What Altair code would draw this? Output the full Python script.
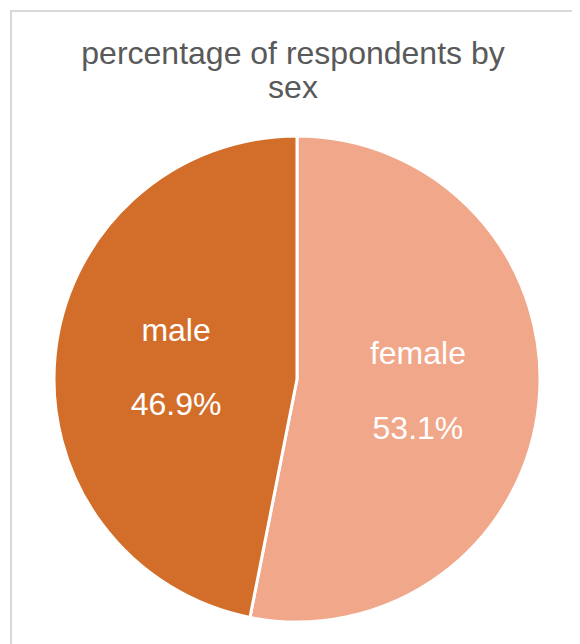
import altair as alt
import pandas as pd

# data
sexes = ["female", "male"]
percents = [53.1, 46.9]
order_idx = [0, 1]
colors = ["#F1A78A", "#D36E2A"]
title_lines = ["percentage of respondents by", "sex"]

df = pd.DataFrame({"sex": sexes, "pct": percents, "idx": order_idx})
df["label"] = [f"{p:.1f}%" for p in percents]

FONT = "Liberation Sans"

base = alt.Chart(df).encode(
    theta=alt.Theta("pct:Q", stack=True),
    order=alt.Order("idx:Q"),
)

pie = base.mark_arc(outerRadius=243, stroke="white", strokeWidth=3).encode(
    color=alt.Color("sex:N", scale=alt.Scale(domain=sexes, range=colors), legend=None)
)

name_txt = base.mark_text(
    radius=121.5, font=FONT, fontSize=32, color="white", baseline="alphabetic", dy=-26.5
).encode(text="sex:N")

pct_txt = base.mark_text(
    radius=121.5, font=FONT, fontSize=32, color="white", baseline="alphabetic", dy=48.3
).encode(text="label:N")

tdf = pd.DataFrame({"t": title_lines, "line": [0, 1]})

t1 = alt.Chart(tdf[tdf.line == 0]).mark_text(
    font=FONT, fontSize=32, color="#595959", baseline="alphabetic", align="center"
).encode(text="t:N", x=alt.value(238), y=alt.value(-73))
t2 = alt.Chart(tdf[tdf.line == 1]).mark_text(
    font=FONT, fontSize=32, color="#595959", baseline="alphabetic", align="center"
).encode(text="t:N", x=alt.value(238), y=alt.value(-39))

border_top = alt.Chart(df.head(1)).mark_rule(color="#D9D9D9", strokeWidth=2).encode(
    x=alt.value(-45), x2=alt.value(600), y=alt.value(-126)
)
border_left = alt.Chart(df.head(1)).mark_rule(color="#D9D9D9", strokeWidth=2).encode(
    x=alt.value(-44), y=alt.value(-127), y2=alt.value(600)
)

chart = alt.layer(border_top, border_left, pie, name_txt, pct_txt, t1, t2).properties(
    width=484,
    height=484,
    padding={"left": 47, "top": 129, "right": 33, "bottom": 23},
    autosize=alt.AutoSizeParams(type="none"),
).configure_view(stroke=None)

chart.save("out.html", embed_options={"renderer": "svg", "actions": False})
